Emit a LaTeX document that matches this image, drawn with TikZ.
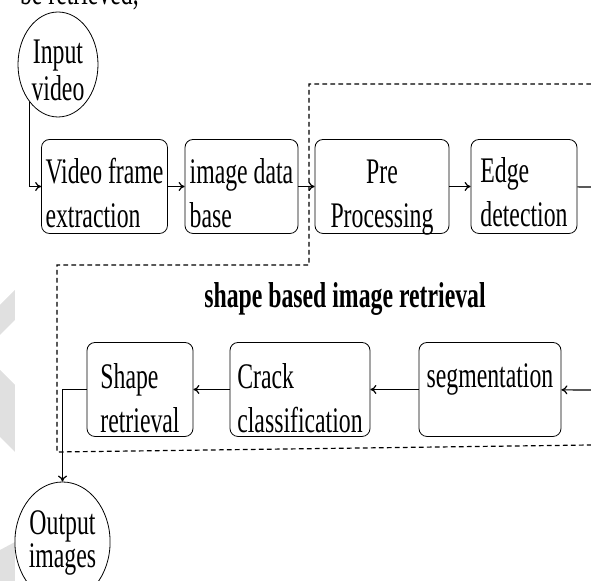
\documentclass[tikz,border=0pt]{standalone}
\usepackage{fontspec}
\setmainfont{Liberation Serif}[FakeStretch=0.66]
\usetikzlibrary{shapes.geometric, arrows.meta}
\tikzset{%
  block/.style    = {draw, rounded corners = 4pt, inner xsep = 2pt,
    inner ysep = 1pt, minimum height = 47pt},
  terminal/.style = {draw, ellipse, inner sep = 0pt}, % In/Out
  link/.style     = {->, line width = 0.6pt},
  wire/.style     = {line width = 0.6pt},
  group/.style    = {line width = 0.6pt, dash pattern = on 2.3pt off 1.7pt},
  watermark/.style = {fill = black!12}
}
\newcommand{\boxtext}[3][-5pt]{\raisebox{#1}[\height][\depth]{%
  \begin{tabular}{@{}#2@{}}#3\end{tabular}}}

\begin{document}
\begin{tikzpicture}[x = 0.5pt, y = -0.5pt, >={To[length = 3pt, width = 4.5pt]},
  every node/.style = {font = \fontsize{18}{22}\selectfont}]
\useasboundingbox (0,0) rectangle (591,581);
\clip (0,0) rectangle (591,581);
%watermark
\fill[watermark] (0,305) -- (15,290) -- (15,320) -- (0,335) -- cycle;
\fill[watermark] (0,370) -- (15,385) -- (15,452) -- (0,437) -- cycle;
\fill[watermark] (0,550) -- (15,542) -- (15,581) -- (0,581) -- cycle;
%text of the page above
\node[anchor = base west] (prev) at (13,5) {be retrieved,};
%retrieval group
\draw[group] (591,84) -- (309,84) -- (309,265) -- (57,265) -- (57,452) -- (591,445);
\node[font = \fontsize{18}{22}\selectfont\bfseries, anchor = base] (title) at (345,308)
  {shape based image retrieval};
%blocks
\draw
	(58,64.5) node [terminal, minimum width = 40pt, minimum height = 52.5pt,
	  font = \fontsize{18}{18.5}\selectfont] (in) {\boxtext{c}{Input\\video}}
	(104.5,186.5) node [block, minimum width = 62.5pt] (vfe) {\boxtext{l}{Video frame\\extraction}}
	(241.5,186.5) node [block, minimum width = 56.5pt] (idb) {\boxtext{l}{image data\\base}}
	(382,186.5) node [block, minimum width = 67pt] (pre) {\boxtext{c}{Pre\\Processing}}
	(524,186.5) node [block, minimum width = 53pt] (edge) {\boxtext[-4.5pt]{l}{Edge\\detection}}
	(490,389.5) node [block, minimum width = 71pt] (seg) {\boxtext[5.5pt]{l}{segmentation}}
	(300,389.5) node [block, minimum width = 70pt] (crack) {\boxtext[-6pt]{l}{Crack\\classification}}
	(140,389.5) node [block, minimum width = 53pt] (shape) {\boxtext[-6pt]{l}{Shape\\retrieval}}
	(62.5,542) node [terminal, minimum width = 45.5pt, minimum height = 60pt,
	  font = \fontsize{18}{15}\selectfont] (out) {\boxtext[-1pt]{c}{Output\\images}};
%free ends at the right border
\coordinate (edgeout) at (591,187);
\coordinate (segin) at (591,390);
%lines
\draw[link] (in.south west) |- (vfe);
\draw[link] (vfe) -- (idb);
\draw[link] (idb) -- (pre);
\draw[link] (pre) -- (edge);
\draw[wire] (edge) -- (edgeout);
\draw[link] (segin) -- (seg);
\draw[link] (seg) -- (crack);
\draw[link] (crack) -- (shape);
\draw[link] (shape.west) -| (out.north);
\end{tikzpicture}
\end{document}
